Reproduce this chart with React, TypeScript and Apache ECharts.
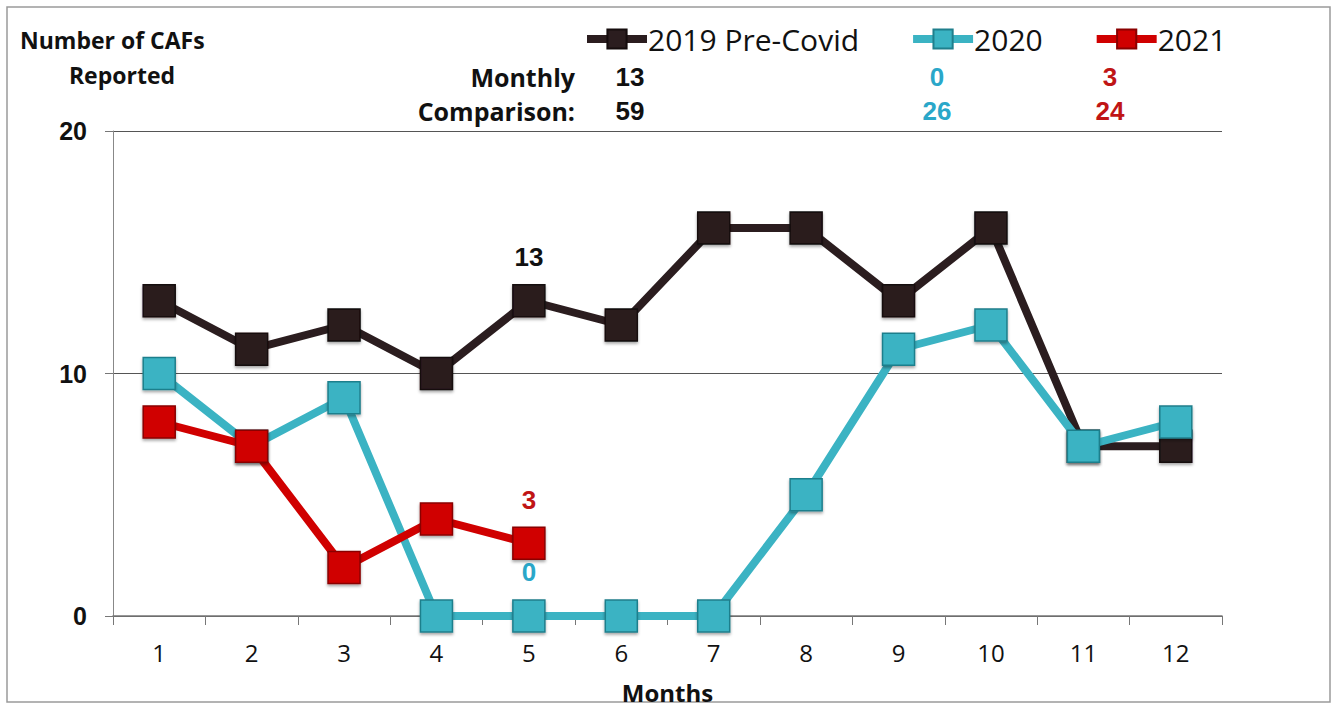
import React, { useEffect, useRef } from "react";
import * as echarts from "echarts";

const months = ["1", "2", "3", "4", "5", "6", "7", "8", "9", "10", "11", "12"];
const s2019 = [13, 11, 12, 10, 13, 12, 16, 16, 13, 16, 7, 7];
const s2020 = [10, 7, 9, 0, 0, 0, 0, 5, 11, 12, 7, 8];
const s2021 = [8, 7, 2, 4, 3];
const seriesNames = ["2019 Pre-Covid", "2020", "2021"];
const monthly = ["13", "0", "3"];
const comparison = ["59", "26", "24"];
const labelIndex = 4;

const FONT = "'Open Sans', 'Liberation Sans', Arial, sans-serif";
const NUMFONT = "'Liberation Sans', Arial, sans-serif";
const COLORS = ["#2b1d1f", "#3bb3c3", "#d00000"];
const TEXT_COLORS = ["#111111", "#2aa7c9", "#c01515"];

export default function App() {
  const ref = useRef<HTMLDivElement>(null);
  useEffect(() => {
    if (!ref.current) return;
    const chart = echarts.init(ref.current, null, { renderer: "svg" });
    const mk = (name: string, data: number[], i: number) => ({
      name,
      type: "line",
      data: data.map((v, k) =>
        k === labelIndex
          ? {
              value: v,
              label: {
                show: true,
                position: "top",
                distance: 14,
                formatter: "{c}",
                fontSize: 26,
                fontWeight: "bold",
                fontFamily: NUMFONT,
                color: TEXT_COLORS[i],
              },
            }
          : v
      ),
      symbol: "rect",
      symbolSize: 32,
      lineStyle: { color: COLORS[i], width: 8 },
      itemStyle: {
        color: COLORS[i],
        borderColor: i === 0 ? "#150c0d" : i === 1 ? "#1f7f8c" : "#8a0000",
        borderWidth: 1.5,
        shadowColor: "rgba(0,0,0,0.35)",
        shadowBlur: 3,
        shadowOffsetY: 2,
      },
      z: 2 + i,
    });
    const colX = [630, 937, 1110];
    const graphics: any[] = [
      {
        type: "rect",
        shape: { x: 7, y: 7, width: 1323, height: 695 },
        style: { fill: "none", stroke: "#9a9a9a", lineWidth: 1.5 },
        silent: true,
      },
      {
        type: "text",
        x: 20,
        y: 40,
        style: { text: "Number of CAFs", font: `bold 23px ${FONT}`, fill: "#111", textVerticalAlign: "middle" },
      },
      {
        type: "text",
        x: 122,
        y: 75,
        style: { text: "Reported", font: `bold 23px ${FONT}`, fill: "#111", textAlign: "center", textVerticalAlign: "middle" },
      },
      {
        type: "text",
        x: 575,
        y: 77,
        style: { text: "Monthly", font: `bold 25px ${FONT}`, fill: "#111", textAlign: "right", textVerticalAlign: "middle" },
      },
      {
        type: "text",
        x: 575,
        y: 111,
        style: { text: "Comparison:", font: `bold 25px ${FONT}`, fill: "#111", textAlign: "right", textVerticalAlign: "middle" },
      },
    ];
    colX.forEach((x, i) => {
      graphics.push({
        type: "text",
        x,
        y: 77,
        style: { text: monthly[i], font: `bold 26px ${NUMFONT}`, fill: TEXT_COLORS[i], textAlign: "center", textVerticalAlign: "middle" },
      });
      graphics.push({
        type: "text",
        x,
        y: 111,
        style: { text: comparison[i], font: `bold 26px ${NUMFONT}`, fill: TEXT_COLORS[i], textAlign: "center", textVerticalAlign: "middle" },
      });
    });
    chart.setOption({
      animation: false,
      backgroundColor: "#ffffff",
      legend: {
        top: 19,
        left: 578,
        itemWidth: 60,
        itemHeight: 24,
        itemGap: 50,
        lineStyle: { width: 8 },
        textStyle: { fontSize: 30, fontFamily: FONT, color: "#111", padding: [0, 0, 0, -4] },
        data: seriesNames,
      },
      grid: { left: 113, top: 131, right: 115, bottom: 84 },
      xAxis: {
        type: "category",
        data: months,
        boundaryGap: true,
        axisLine: { show: true, lineStyle: { color: "#777", width: 1.5 } },
        axisTick: { show: true, inside: false, length: 9, lineStyle: { color: "#777" }, interval: 0 },
        axisLabel: { fontSize: 24, fontFamily: FONT, color: "#111", margin: 24 },
        name: "Months",
        nameLocation: "middle",
        nameGap: 64,
        nameTextStyle: { fontSize: 24, fontWeight: "bold", fontFamily: FONT, color: "#111" },
      },
      yAxis: {
        type: "value",
        min: 0,
        max: 20,
        interval: 10,
        axisLine: { show: true, lineStyle: { color: "#888", width: 1 } },
        axisTick: { show: true, length: 8, lineStyle: { color: "#777" } },
        splitLine: { show: true, lineStyle: { color: "#555", width: 1.2 } },
        axisLabel: { fontSize: 25, fontWeight: "bold", fontFamily: NUMFONT, color: "#111", margin: 26 },
      },
      series: [mk(seriesNames[0], s2019, 0), mk(seriesNames[1], s2020, 1), mk(seriesNames[2], s2021, 2)],
      graphic: graphics,
    });
    return () => chart.dispose();
  }, []);
  return (
    <div
      ref={ref}
      style={{ position: "absolute", left: 0, top: 0, width: 1337, height: 709 }}
    />
  );
}
